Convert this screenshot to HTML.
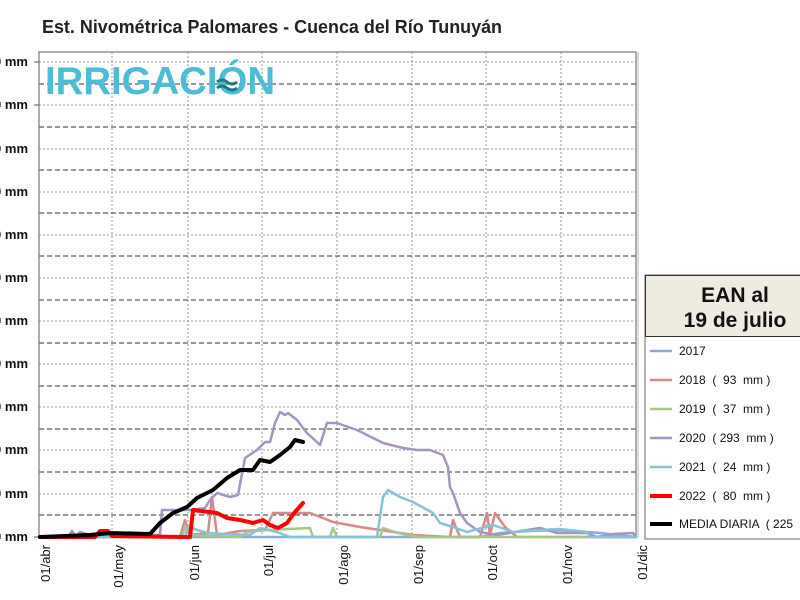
<!DOCTYPE html>
<html><head><meta charset="utf-8"><style>
body{margin:0;background:#fff;}
svg{display:block;font-family:"Liberation Sans",sans-serif;}
</style></head><body>
<svg width="800" height="600" viewBox="0 0 800 600" xmlns="http://www.w3.org/2000/svg">
<rect width="800" height="600" fill="#fff"/>
<text x="42" y="33" font-size="18.5" fill="#222" font-weight="bold" textLength="460" lengthAdjust="spacingAndGlyphs" style="font-weight:600">Est. Nivométrica Palomares - Cuenca del Río Tunuyán</text>
<!-- grid -->
<g stroke="#999" stroke-width="1" stroke-dasharray="2,2">
<line x1="39" x2="636" y1="62" y2="62"/><line x1="39" x2="636" y1="105" y2="105"/><line x1="39" x2="636" y1="149" y2="149"/><line x1="39" x2="636" y1="192" y2="192"/><line x1="39" x2="636" y1="235" y2="235"/><line x1="39" x2="636" y1="278" y2="278"/><line x1="39" x2="636" y1="321" y2="321"/><line x1="39" x2="636" y1="364" y2="364"/><line x1="39" x2="636" y1="407" y2="407"/><line x1="39" x2="636" y1="450" y2="450"/><line x1="39" x2="636" y1="494" y2="494"/>
<line x1="112" x2="112" y1="52" y2="537"/><line x1="188" x2="188" y1="52" y2="537"/><line x1="262" x2="262" y1="52" y2="537"/><line x1="337" x2="337" y1="52" y2="537"/><line x1="412" x2="412" y1="52" y2="537"/><line x1="486" x2="486" y1="52" y2="537"/><line x1="561" x2="561" y1="52" y2="537"/>
</g>
<g stroke="#333" stroke-width="1" stroke-dasharray="5,3">
<line x1="39" x2="636" y1="84" y2="84"/><line x1="39" x2="636" y1="127" y2="127"/><line x1="39" x2="636" y1="170" y2="170"/><line x1="39" x2="636" y1="213" y2="213"/><line x1="39" x2="636" y1="256" y2="256"/><line x1="39" x2="636" y1="300" y2="300"/><line x1="39" x2="636" y1="343" y2="343"/><line x1="39" x2="636" y1="386" y2="386"/><line x1="39" x2="636" y1="429" y2="429"/><line x1="39" x2="636" y1="472" y2="472"/><line x1="39" x2="636" y1="515" y2="515"/>
</g>
<rect x="39" y="52" width="597" height="485" fill="none" stroke="#777" stroke-width="1.2"/>
<line x1="638" x2="638" y1="52" y2="537" stroke="#bbb" stroke-width="1"/>
<!-- y labels -->
<g font-size="13" font-weight="bold" fill="#111" text-anchor="end">
<text x="28" y="66">1100 mm</text><text x="28" y="109">1000 mm</text><text x="28" y="153">900 mm</text><text x="28" y="196">800 mm</text><text x="28" y="239">700 mm</text><text x="28" y="282">600 mm</text><text x="28" y="325">500 mm</text><text x="28" y="368">400 mm</text><text x="28" y="411">300 mm</text><text x="28" y="454">200 mm</text><text x="28" y="498">100 mm</text><text x="28" y="541">0 mm</text>
</g>
<g stroke="#555"><line x1="34" x2="39" y1="62" y2="62"/><line x1="34" x2="39" y1="105" y2="105"/><line x1="34" x2="39" y1="537" y2="537"/></g>
<!-- x labels -->
<g font-size="13" fill="#111" text-anchor="end">
<text transform="translate(50,545) rotate(-90)">01/abr</text>
<text transform="translate(123,545) rotate(-90)">01/may</text>
<text transform="translate(199,545) rotate(-90)">01/jun</text>
<text transform="translate(273,545) rotate(-90)">01/jul</text>
<text transform="translate(348,545) rotate(-90)">01/ago</text>
<text transform="translate(423,545) rotate(-90)">01/sep</text>
<text transform="translate(497,545) rotate(-90)">01/oct</text>
<text transform="translate(572,545) rotate(-90)">01/nov</text>
<text transform="translate(647,545) rotate(-90)">01/dic</text>
</g>
<!-- logo -->
<text x="45" y="94" font-size="39" font-weight="bold" fill="#4dbcd6" textLength="230" lengthAdjust="spacingAndGlyphs">IRRIGACIÓN</text>
<g fill="none" stroke="#1a7a86" stroke-width="3"><path d="M217 82 q5 -4 10 0 t10 0"/><path d="M217 88 q5 -4 10 0 t10 0"/></g>
<!-- series -->
<g fill="none" stroke-linejoin="round" stroke-linecap="round">
<polyline stroke="#8fa9d6" stroke-width="2.5" points="40,537 480,537 500,533 530,531 560,530 600,533 636,537"/>
<polyline stroke="#d48a8a" stroke-width="2.5" points="40,537 180,537 185,520 190,535 208,533 212,497 217,535 240,531 265,530 273,513 293,513 310,513 333,522 360,527 380,530 400,533 413,535 450,537 453,520 460,537 480,537 487,513 490,535 495,513 505,527 517,537 636,537"/>
<polyline stroke="#a9c68a" stroke-width="2.5" points="40,537 182,537 185,527 190,535 240,537 247,532 267,530 310,528 313,537 330,537 333,528 337,537 380,537 383,528 395,532 407,535 420,537 636,537"/>
<polyline stroke="#a693c0" stroke-width="2.5" points="40,537 68,537 72,531 76,536 80,532 90,535 110,535 160,535 162,510 190,510 205,508 210,500 217,493 230,497 238,495 245,458 257,450 265,442 270,442 275,423 280,412 285,415 288,413 297,420 307,433 320,445 327,423 337,423 357,430 383,443 403,448 417,450 430,450 443,455 448,467 450,487 453,493 460,513 467,523 480,532 497,535 527,530 540,528 557,533 587,533 597,537 613,534 633,533 636,537"/>
<polyline stroke="#86c3d6" stroke-width="2.5" points="40,537 185,537 188,527 207,533 250,535 260,528 277,532 290,537 377,537 383,497 388,490 400,497 413,502 433,513 440,523 453,527 467,532 493,525 513,532 540,530 560,529 587,532 590,537 636,537"/>
<polyline stroke="#ff0000" stroke-width="4" points="40,537 95,537 100,531 108,531 112,536 185,537 190,537 193,510 217,513 227,518 240,520 253,523 263,520 270,525 278,528 287,523 295,512 303,503"/>
<polyline stroke="#000" stroke-width="4" points="40,537 90,535 110,533 150,534 160,523 173,513 187,507 197,498 213,490 227,478 240,470 253,470 260,460 270,462 280,455 290,447 295,440 303,442"/>
</g>
<!-- legend -->
<rect x="645" y="275" width="160" height="264" fill="#fff" stroke="#666" stroke-width="1"/>
<rect x="645.5" y="275.5" width="160" height="61" fill="#eeebe1" stroke="#333" stroke-width="1"/>
<g font-size="21" fill="#111" text-anchor="middle" style="font-weight:600"><text x="735" y="302">EAN al</text><text x="735" y="327">19 de julio</text></g>
<g font-size="12" fill="#111">
<line x1="650" x2="672" y1="351" y2="351" stroke="#8fa9d6" stroke-width="2.5"/><text x="679" y="355">2017</text>
<line x1="650" x2="672" y1="380" y2="380" stroke="#d48a8a" stroke-width="2.5"/><text x="679" y="384" xml:space="preserve">2018  (  93  mm )</text>
<line x1="650" x2="672" y1="409" y2="409" stroke="#a9c68a" stroke-width="2.5"/><text x="679" y="413" xml:space="preserve">2019  (  37  mm )</text>
<line x1="650" x2="672" y1="438" y2="438" stroke="#a693c0" stroke-width="2.5"/><text x="679" y="442" xml:space="preserve">2020  ( 293  mm )</text>
<line x1="650" x2="672" y1="467" y2="467" stroke="#86c3d6" stroke-width="2.5"/><text x="679" y="471" xml:space="preserve">2021  (  24  mm )</text>
<line x1="650" x2="672" y1="496" y2="496" stroke="#ff0000" stroke-width="4"/><text x="679" y="500" xml:space="preserve">2022  (  80  mm )</text>
<line x1="650" x2="672" y1="524" y2="524" stroke="#000" stroke-width="4"/><text x="679" y="528" xml:space="preserve">MEDIA DIARIA  ( 225</text>
</g>
</svg>
</body></html>
